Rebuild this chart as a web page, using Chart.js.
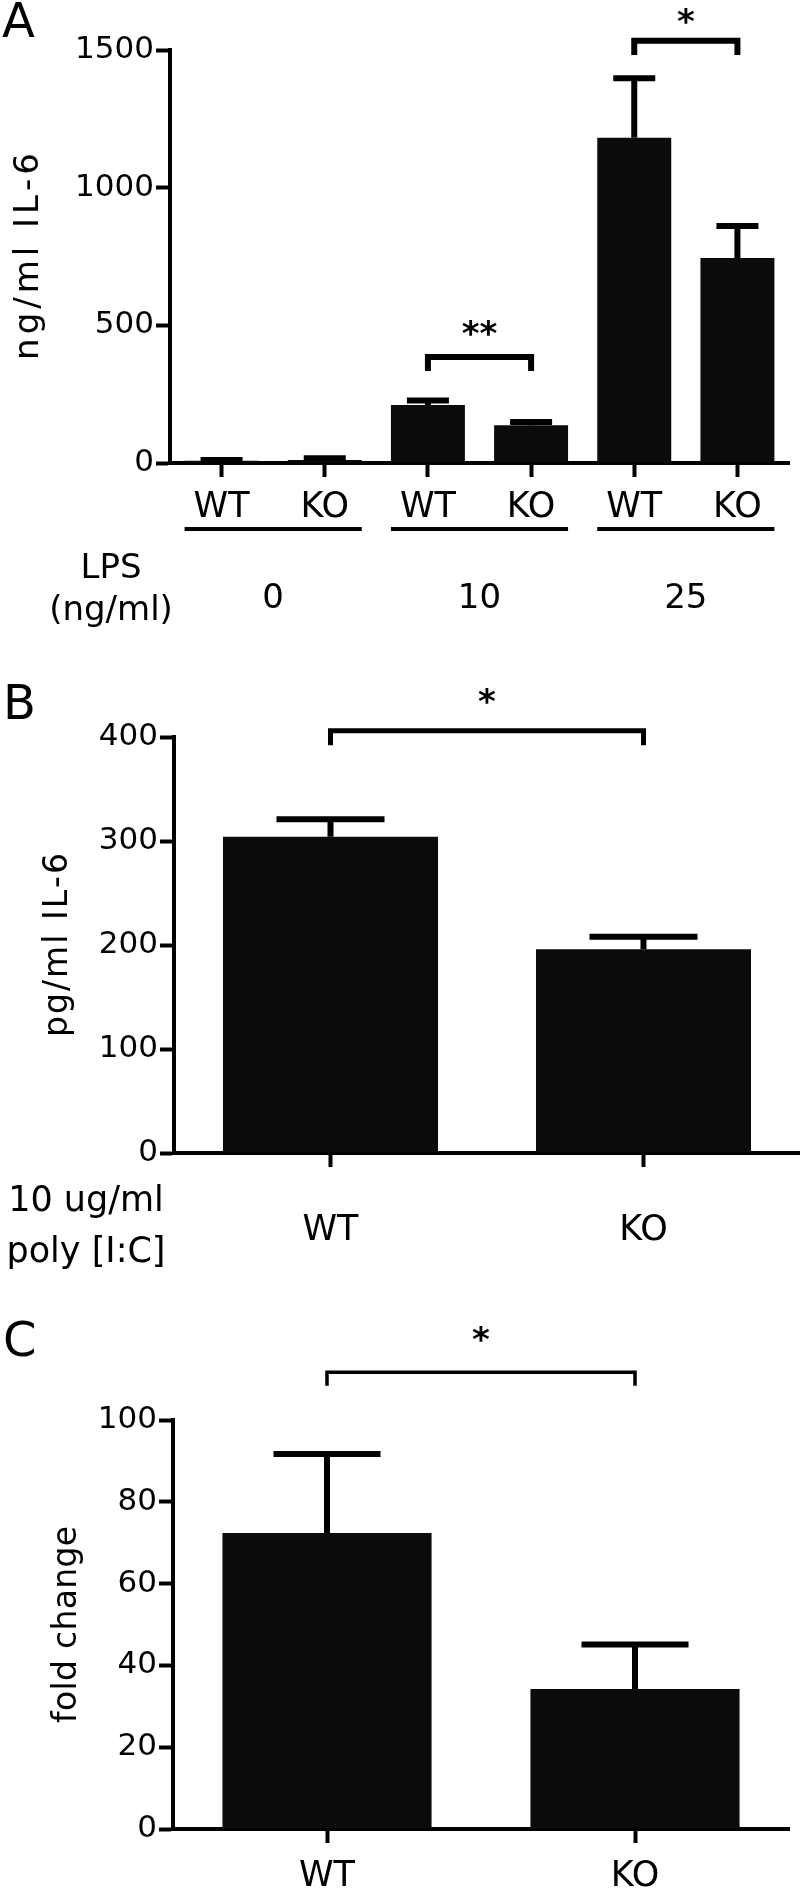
<!DOCTYPE html>
<html lang="en">
<head>
  <meta charset="UTF-8" />
  <title>IL-6 response, WT vs KO</title>
  <script src="https://cdn.jsdelivr.net/npm/chart.js"></script>
  <style>
    body {
      margin: 0;
      background: #fff;
      width: 800px;
      height: 1890px;
      position: relative;
      overflow: hidden;
    }
    canvas {
      position: absolute;
      left: 0;
    }
    #chartA { top: 0; }
    #chartB { top: 680px; }
    #chartC { top: 1290px; }
  </style>
</head>
<body>

  <canvas id="chartA" width="800" height="680"></canvas>
  <canvas id="chartB" width="800" height="610"></canvas>
  <canvas id="chartC" width="800" height="600"></canvas>

  <script>
    // Panel A - IL-6 after LPS stimulation
    const lpsLabels = ["WT", "KO", "WT", "KO", "WT", "KO"];
    const lpsDoses = ["0", "10", "25"];
    const lpsMeans = [8, 11, 211, 137, 1181, 745];
    const lpsErrors = [3, 6, 16, 12, 216, 116];
    // [from bar, to bar, text, bracket top, leg end, text centre] in axis units
    const lpsSig = [
      [2, 3, "**", 385, 334, 501],
      [4, 5, "*", 1534, 1482, 1634]
    ];

    // Panel B - IL-6 after poly [I:C]
    const polyLabels = ["WT", "KO"];
    const polyMeans = [304, 196];
    const polyErrors = [17, 12];
    const polySig = [[0, 1, "*", 406, 392, 442]];

    // Panel C - fold change
    const foldLabels = ["WT", "KO"];
    const foldMeans = [72.4, 34.2];
    const foldErrors = [19.3, 10.9];
    const foldSig = [[0, 1, "*", 111.7, 108.4, 121.8]];

    const FONT = "'DejaVu Sans', Verdana, sans-serif";
    Chart.defaults.font.family = FONT;
    Chart.defaults.color = "#000";

    // centred text with extra space between letters
    function spacedText(ctx, text, x, y, spacing) {
      const chars = [...text];
      const widths = chars.map(c => ctx.measureText(c).width);
      const total = widths.reduce((a, b) => a + b, 0) + spacing * (chars.length - 1);
      let cx = x - total / 2;
      ctx.textAlign = "left";
      chars.forEach((c, i) => {
        ctx.fillText(c, cx, y);
        cx += widths[i] + spacing;
      });
    }

    function makePanel(canvasId, cfg) {
      const extras = {
        id: "extras",
        afterDatasetsDraw(chart) {
          const ctx = chart.ctx;
          const ys = chart.scales.y;
          const bars = chart.getDatasetMeta(0).data;
          ctx.save();
          ctx.strokeStyle = "#000";
          ctx.lineWidth = 6;
          bars.forEach((bar, i) => {
            const top = ys.getPixelForValue(cfg.means[i] + cfg.errors[i]);
            ctx.beginPath();
            ctx.moveTo(bar.x, bar.y);
            ctx.lineTo(bar.x, top);
            ctx.moveTo(bar.x - cfg.capWidth / 2, top);
            ctx.lineTo(bar.x + cfg.capWidth / 2, top);
            ctx.stroke();
          });
          ctx.restore();
        },
        afterDraw(chart) {
          const ctx = chart.ctx;
          const ys = chart.scales.y;
          const bars = chart.getDatasetMeta(0).data;
          const area = chart.chartArea;
          ctx.save();
          ctx.fillStyle = "#000";
          ctx.strokeStyle = "#000";

          // significance brackets
          cfg.sig.forEach(([a, b, text, top, leg, textAt]) => {
            const x1 = bars[a].x, x2 = bars[b].x;
            const yt = ys.getPixelForValue(top), yl = ys.getPixelForValue(leg);
            ctx.lineWidth = cfg.bracketWidth;
            ctx.lineJoin = "miter";
            ctx.lineCap = "butt";
            ctx.beginPath();
            ctx.moveTo(x1, yl);
            ctx.lineTo(x1, yt);
            ctx.lineTo(x2, yt);
            ctx.lineTo(x2, yl);
            ctx.stroke();
            ctx.font = "bold 34px " + FONT;
            ctx.textAlign = "center";
            ctx.textBaseline = "alphabetic";
            ctx.fillText(text, (x1 + x2) / 2, ys.getPixelForValue(textAt) + 20);
          });

          // rotated y title
          ctx.save();
          ctx.translate(cfg.titleX, (area.top + area.bottom) / 2);
          ctx.rotate(-Math.PI / 2);
          ctx.font = cfg.titleSize + "px " + FONT;
          ctx.textBaseline = "middle";
          spacedText(ctx, cfg.title, 0, 0, cfg.titleSpacing);
          ctx.restore();

          // panel letter
          ctx.font = "48px " + FONT;
          ctx.textAlign = "left";
          ctx.textBaseline = "alphabetic";
          ctx.fillText(cfg.letter, cfg.letterX, cfg.letterY);

          if (cfg.more) cfg.more(chart, ctx, bars);
          ctx.restore();
        }
      };

      return new Chart(document.getElementById(canvasId), {
        type: "bar",
        data: {
          labels: cfg.labels,
          datasets: [{
            data: cfg.means,
            backgroundColor: "#0b0b0b",
            borderWidth: 0,
            barPercentage: cfg.barPct,
            categoryPercentage: 1
          }]
        },
        options: {
          responsive: false,
          animation: false,
          devicePixelRatio: 1,
          layout: { padding: { top: cfg.padTop, right: cfg.padRight, left: 0, bottom: 0 } },
          plugins: { legend: { display: false }, tooltip: { enabled: false } },
          scales: {
            x: {
              grid: { offset: false, drawOnChartArea: false, tickLength: 14, tickWidth: 4, tickColor: "#000" },
              border: { color: "#000", width: 4 },
              ticks: { font: { size: 35 }, padding: cfg.xPad, maxRotation: 0 },
              afterFit: s => { s.height = cfg.xHeight; }
            },
            y: {
              min: 0,
              max: cfg.yMax,
              grid: { drawOnChartArea: false, tickLength: 14, tickWidth: 4, tickColor: "#000" },
              border: { color: "#000", width: 4 },
              ticks: { stepSize: cfg.yStep, font: { size: 31 }, padding: 2, callback: v => String(v) },
              afterFit: s => { s.width = cfg.yWidth; }
            }
          }
        },
        plugins: [extras]
      });
    }

    makePanel("chartA", {
      labels: lpsLabels, means: lpsMeans, errors: lpsErrors, sig: lpsSig,
      yMax: 1500, yStep: 500, yWidth: 170, padTop: 50, padRight: 11, xHeight: 217, xPad: 10,
      barPct: 0.717, capWidth: 42, bracketWidth: 6,
      title: "ng/ml IL-6", titleX: 29, titleSize: 34, titleSpacing: 4,
      letter: "A", letterX: 2, letterY: 37,
      more: (chart, ctx, bars) => {
        const half = bars[0].width / 2;
        const yLine = chart.chartArea.bottom + 66;
        ctx.lineWidth = 4;
        ctx.font = "34px " + FONT;
        ctx.textAlign = "center";
        ctx.textBaseline = "alphabetic";
        lpsDoses.forEach((dose, g) => {
          const left = bars[2 * g].x - half, right = bars[2 * g + 1].x + half;
          ctx.beginPath();
          ctx.moveTo(left, yLine);
          ctx.lineTo(right, yLine);
          ctx.stroke();
          ctx.fillText(dose, (left + right) / 2, 608);
        });
        ctx.fillText("LPS", 111, 578);
        ctx.fillText("(ng/ml)", 111, 620);
      }
    });

    makePanel("chartB", {
      labels: polyLabels, means: polyMeans, errors: polyErrors, sig: polySig,
      yMax: 400, yStep: 100, yWidth: 174, padTop: 57, padRight: 0, xHeight: 137, xPad: 43,
      barPct: 0.687, capWidth: 108, bracketWidth: 5,
      title: "pg/ml IL-6", titleX: 58, titleSize: 33, titleSpacing: 2,
      letter: "B", letterX: 3, letterY: 39,
      more: (chart, ctx) => {
        ctx.font = "35px " + FONT;
        ctx.textAlign = "center";
        ctx.textBaseline = "alphabetic";
        ctx.fillText("10 ug/ml", 86, 531);
        ctx.fillText("poly [I:C]", 86, 582);
      }
    });

    makePanel("chartC", {
      labels: foldLabels, means: foldMeans, errors: foldErrors, sig: foldSig,
      yMax: 100, yStep: 20, yWidth: 173, padTop: 130, padRight: 11, xHeight: 61, xPad: 13,
      barPct: 0.679, capWidth: 107, bracketWidth: 3.5,
      title: "fold change", titleX: 67, titleSize: 33, titleSpacing: 0.3,
      letter: "C", letterX: 3, letterY: 66
    });
  </script>

</body>
</html>
